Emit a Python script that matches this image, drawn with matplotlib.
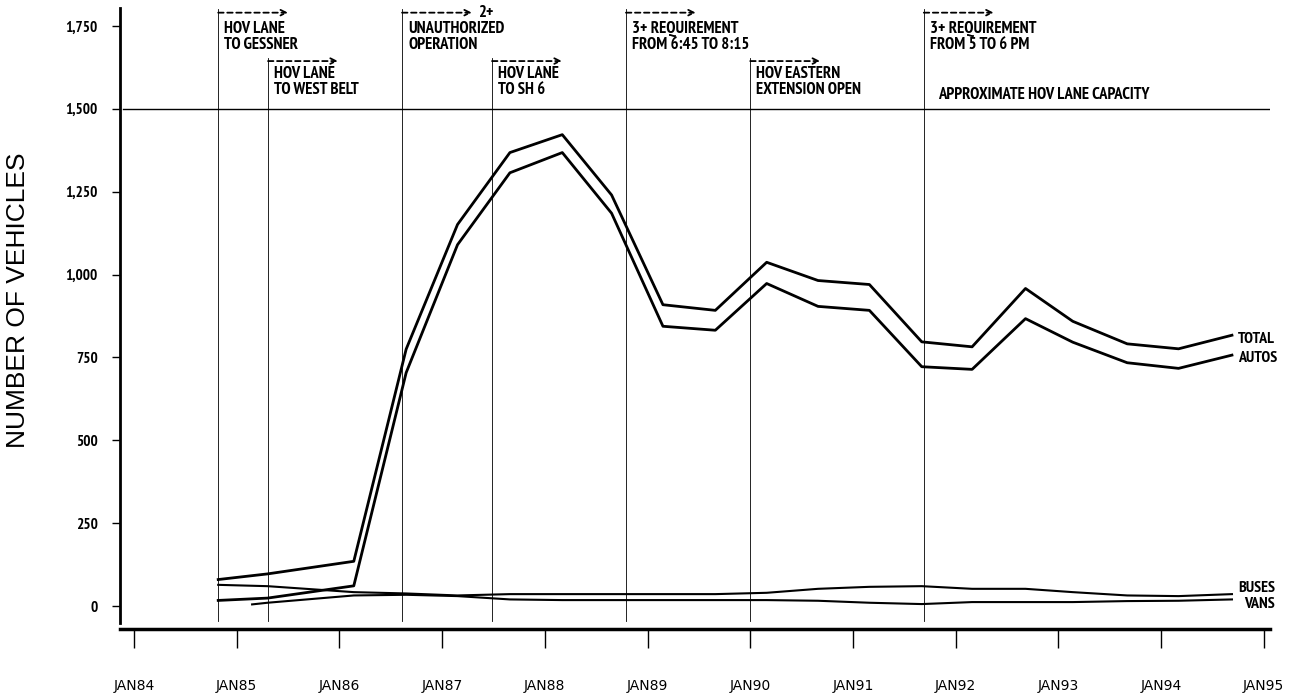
import matplotlib.pyplot as plt

# semi-annual counts (vehicles)
years = [1984.82, 1985.30, 1986.14, 1986.65, 1987.15, 1987.66, 1988.17, 1988.65, 1989.15, 1989.66,
         1990.16, 1990.66, 1991.16, 1991.67, 1992.16, 1992.68, 1993.14, 1993.67, 1994.17, 1994.69]
total = [80, 97, 135, 775, 1151, 1368, 1422, 1240, 909, 892,
         1037, 982, 970, 797, 782, 958, 859, 791, 776, 817]
autos = [17, 24, 61, 704, 1090, 1307, 1368, 1185, 844, 832,
         973, 904, 892, 722, 714, 867, 796, 734, 717, 757]
buses = [64, 60, 42, 38, 32, 36, 36, 36, 36, 36,
         40, 52, 58, 60, 52, 52, 42, 32, 30, 36]
vans_years = [1985.15, 1985.30, 1986.14, 1986.65, 1987.15, 1987.66, 1988.17, 1988.65, 1989.15, 1989.66,
              1990.16, 1990.66, 1991.16, 1991.67, 1992.16, 1992.68, 1993.14, 1993.67, 1994.17, 1994.69]
vans = [5, 10, 32, 34, 30, 20, 18, 18, 18, 18,
        18, 16, 10, 6, 12, 12, 12, 15, 16, 20]

capacity = 1500

event_x = [1984.82, 1985.305, 1986.61, 1987.486, 1988.79, 1990.0, 1991.69]
event_labels = ["HOV LANE\nTO GESSNER", "HOV LANE\nTO WEST BELT", "UNAUTHORIZED\nOPERATION",
                "HOV LANE\nTO SH 6", "3+ REQUIREMENT\nFROM 6:45 TO 8:15",
                "HOV EASTERN\nEXTENSION OPEN", "3+ REQUIREMENT\nFROM 5 TO 6 PM"]
event_row = [0, 1, 0, 1, 0, 1, 0]

tick_years = list(range(1984, 1996))
tick_labels = ["JAN%02d" % (y % 100) for y in tick_years]
y_ticks = [0, 250, 500, 750, 1000, 1250, 1500, 1750]

fnt = ['PT Sans Narrow', 'DejaVu Sans']

fig = plt.figure(figsize=(13.06, 6.98), dpi=100)
ax = fig.add_axes([0.0919, 0.1075, 0.8805, 0.881])

ax.plot(years, total, color='black', lw=2.0)
ax.plot(years, autos, color='black', lw=2.0)
ax.plot(years, buses, color='black', lw=1.5)
ax.plot(vans_years, vans, color='black', lw=1.5)

ax.axhline(capacity, xmin=0.003, color='black', lw=1.0)

row_top = [1800, 1654]
row_text = [1764, 1628]
for x, lab, r in zip(event_x, event_labels, event_row):
    ax.plot([x, x], [-45, row_top[r]], color='black', lw=0.6)
    ax.annotate('', xy=(x + 0.68, row_top[r] - 10), xytext=(x, row_top[r] - 10),
                arrowprops=dict(arrowstyle='->', linestyle=(0, (3, 2)), lw=1.3, color='black',
                                shrinkA=0, shrinkB=0))
    ax.text(x + 0.06, row_text[r], lab, ha='left', va='top', fontsize=12,
            fontweight='bold', family=fnt, linespacing=0.95)
    if lab.startswith("UNAUTH"):
        ax.text(x + 0.74, row_top[r] - 10, "2+", ha='left', va='center', fontsize=12,
                fontweight='bold', family=fnt)

ax.text(1991.83, 1541, "APPROXIMATE HOV LANE CAPACITY", ha='left', va='center',
        fontsize=12, fontweight='bold', family=fnt)

end_labels = [("TOTAL", 807), ("AUTOS", 747), ("BUSES", 54), ("VANS", 6)]
for lab, yv in end_labels:
    xx = 1994.75 if lab != "VANS" else 1994.81
    ax.text(xx, yv, lab, ha='left', va='center', fontsize=11.5, fontweight='bold',
            family=fnt, clip_on=False)

ax.set_xlim(1983.864, 1995.06)
ax.set_ylim(-51, 1804)
ax.tick_params(axis='x', direction='out', length=14, width=1, pad=22)
ax.tick_params(axis='y', direction='out', length=6, width=1, pad=10)
ax.set_xticks(tick_years)
ax.set_xticklabels(tick_labels, fontsize=11.5, fontweight='bold', family=fnt)
ax.set_yticks(y_ticks)
ax.set_yticklabels(["{:,}".format(v) for v in y_ticks], fontsize=11, fontweight='bold', family=fnt)

ax.spines['top'].set_visible(False)
ax.spines['right'].set_visible(False)
ax.spines['left'].set_linewidth(2)
ax.spines['bottom'].set_linewidth(2.5)
ax.spines['bottom'].set_position(('outward', 4.5))

ax.set_ylabel("NUMBER OF VEHICLES", fontsize=19, family=['Liberation Sans', 'DejaVu Sans'])
ax.yaxis.set_label_coords(-0.078, 0.525)

plt.savefig("out.png", dpi=100)
